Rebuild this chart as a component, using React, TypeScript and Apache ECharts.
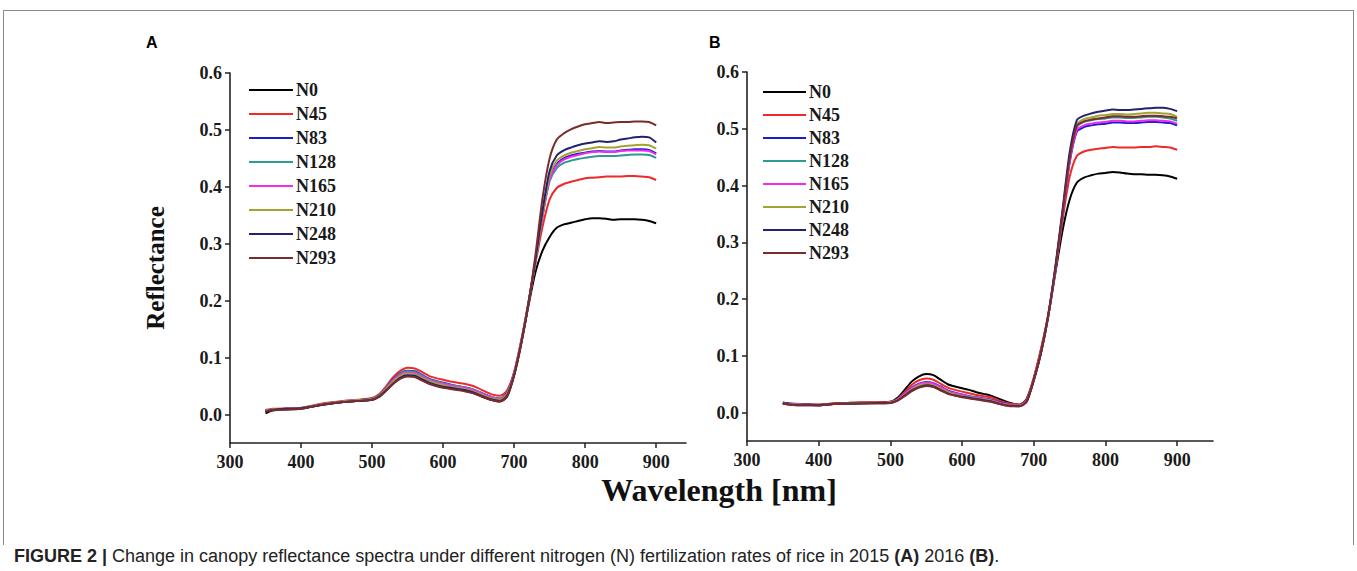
import React, { useEffect, useRef } from "react";
import * as echarts from "echarts";

const NAMES = ["N0", "N45", "N83", "N128", "N165", "N210", "N248", "N293"];
const COLORS = ["#000000", "#ee2a2a", "#1c1cc8", "#2e9a92", "#f02cf0", "#a3a332", "#22226e", "#7a2b2b"];

const WAVELENGTH = [
  350, 360, 380, 400, 420, 440, 460, 480, 500, 510, 520, 530, 540, 550, 560, 570, 580, 590, 600, 610,
  620, 630, 640, 650, 660, 670, 680, 690, 700, 710, 720, 730, 740, 750, 760, 770, 780, 790, 800, 810,
  820, 830, 840, 850, 860, 870, 880, 890, 900,
];

// Panel A (2015)
const A_N0 = [0.002,0.007,0.009,0.010,0.015,0.019,0.022,0.024,0.026,0.032,0.043,0.055,0.064,0.068,0.067,0.061,0.055,0.051,0.048,0.046,0.044,0.042,0.039,0.034,0.029,0.025,0.023,0.031,
  0.070,0.125,0.190,0.250,0.288,0.312,0.328,0.334,0.337,0.340,0.343,0.345,0.345,0.344,0.342,0.343,0.343,0.343,0.342,0.340,0.336];
const A_N45 = [0.008,0.010,0.011,0.012,0.017,0.021,0.024,0.026,0.029,0.036,0.050,0.066,0.077,0.082,0.081,0.075,0.068,0.064,0.061,0.058,0.056,0.054,0.051,0.046,0.040,0.035,0.033,0.042,
  0.075,0.130,0.195,0.265,0.330,0.378,0.398,0.405,0.409,0.412,0.415,0.416,0.417,0.418,0.418,0.418,0.419,0.419,0.418,0.417,0.412];
const A_N83 = [0.007,0.009,0.010,0.011,0.016,0.020,0.023,0.025,0.028,0.034,0.047,0.062,0.073,0.077,0.076,0.070,0.063,0.059,0.056,0.053,0.050,0.048,0.045,0.040,0.035,0.030,0.028,0.038,
  0.072,0.128,0.195,0.270,0.350,0.415,0.440,0.450,0.455,0.458,0.460,0.462,0.463,0.462,0.462,0.464,0.465,0.466,0.466,0.465,0.459];
const A_N128 = [0.007,0.009,0.010,0.011,0.016,0.020,0.023,0.025,0.028,0.034,0.047,0.061,0.072,0.076,0.075,0.069,0.062,0.058,0.055,0.052,0.050,0.048,0.045,0.040,0.034,0.030,0.027,0.037,
  0.072,0.128,0.195,0.268,0.348,0.410,0.433,0.442,0.446,0.449,0.451,0.453,0.454,0.454,0.454,0.455,0.456,0.457,0.457,0.456,0.451];
const A_N165 = [0.006,0.009,0.010,0.011,0.016,0.020,0.023,0.025,0.027,0.033,0.046,0.060,0.070,0.074,0.073,0.067,0.061,0.057,0.054,0.051,0.049,0.047,0.044,0.039,0.034,0.029,0.027,0.036,
  0.071,0.127,0.194,0.269,0.349,0.413,0.438,0.448,0.453,0.456,0.459,0.461,0.462,0.461,0.461,0.463,0.464,0.464,0.464,0.463,0.457];
const A_N210 = [0.006,0.009,0.010,0.011,0.016,0.020,0.023,0.025,0.027,0.033,0.045,0.058,0.068,0.072,0.071,0.065,0.059,0.055,0.052,0.049,0.047,0.045,0.042,0.037,0.032,0.028,0.026,0.035,
  0.070,0.126,0.194,0.270,0.352,0.420,0.446,0.455,0.460,0.463,0.466,0.468,0.470,0.469,0.469,0.471,0.472,0.473,0.474,0.473,0.467];
const A_N248 = [0.005,0.008,0.010,0.011,0.015,0.019,0.022,0.024,0.026,0.032,0.043,0.055,0.065,0.069,0.068,0.062,0.056,0.052,0.049,0.047,0.045,0.043,0.040,0.035,0.030,0.026,0.024,0.033,
  0.069,0.125,0.193,0.272,0.358,0.428,0.455,0.464,0.469,0.473,0.476,0.478,0.480,0.479,0.480,0.483,0.485,0.487,0.488,0.487,0.478];
const A_N293 = [0.005,0.008,0.009,0.010,0.015,0.019,0.022,0.024,0.026,0.031,0.042,0.054,0.063,0.067,0.066,0.060,0.054,0.050,0.047,0.045,0.043,0.041,0.038,0.034,0.029,0.025,0.023,0.032,
  0.068,0.124,0.193,0.280,0.380,0.450,0.483,0.494,0.501,0.506,0.510,0.512,0.514,0.512,0.513,0.514,0.514,0.515,0.515,0.514,0.508];

// Panel B (2016)
const B_N0 = [0.018,0.016,0.015,0.014,0.016,0.017,0.018,0.018,0.019,0.026,0.040,0.055,0.064,0.068,0.066,0.058,0.050,0.046,0.043,0.040,0.036,0.033,0.030,0.025,0.020,0.016,0.014,0.024,
  0.060,0.110,0.170,0.245,0.320,0.375,0.405,0.414,0.418,0.421,0.422,0.424,0.423,0.421,0.420,0.420,0.419,0.419,0.418,0.416,0.412];
const B_N45 = [0.017,0.015,0.014,0.014,0.016,0.017,0.018,0.018,0.019,0.024,0.036,0.049,0.057,0.060,0.058,0.051,0.044,0.040,0.037,0.034,0.031,0.029,0.027,0.022,0.018,0.015,0.014,0.023,
  0.062,0.112,0.172,0.250,0.338,0.415,0.452,0.460,0.463,0.465,0.466,0.468,0.467,0.467,0.467,0.468,0.468,0.469,0.468,0.467,0.463];
const B_N83 = [0.017,0.015,0.014,0.013,0.015,0.016,0.017,0.017,0.018,0.023,0.033,0.044,0.051,0.054,0.052,0.046,0.039,0.035,0.032,0.029,0.027,0.025,0.023,0.019,0.016,0.013,0.013,0.021,
  0.058,0.105,0.168,0.250,0.345,0.440,0.495,0.503,0.506,0.508,0.509,0.511,0.511,0.510,0.510,0.511,0.512,0.512,0.511,0.510,0.506];
const B_N128 = [0.016,0.015,0.014,0.013,0.015,0.016,0.017,0.017,0.018,0.022,0.032,0.042,0.049,0.052,0.050,0.044,0.037,0.034,0.031,0.028,0.026,0.024,0.022,0.018,0.015,0.013,0.012,0.020,
  0.058,0.106,0.169,0.252,0.348,0.445,0.503,0.512,0.515,0.517,0.518,0.520,0.520,0.519,0.519,0.520,0.521,0.521,0.520,0.518,0.514];
const B_N165 = [0.016,0.015,0.014,0.013,0.015,0.016,0.017,0.017,0.018,0.023,0.033,0.043,0.050,0.053,0.051,0.045,0.038,0.034,0.031,0.028,0.026,0.024,0.022,0.018,0.015,0.013,0.012,0.021,
  0.057,0.105,0.168,0.250,0.346,0.442,0.498,0.506,0.509,0.511,0.512,0.514,0.514,0.513,0.513,0.514,0.515,0.515,0.514,0.513,0.509];
const B_N210 = [0.016,0.014,0.014,0.013,0.015,0.016,0.017,0.017,0.018,0.022,0.031,0.041,0.048,0.050,0.048,0.042,0.036,0.032,0.029,0.027,0.025,0.023,0.021,0.017,0.014,0.012,0.012,0.020,
  0.058,0.106,0.170,0.254,0.352,0.450,0.508,0.517,0.520,0.523,0.524,0.526,0.526,0.525,0.526,0.527,0.528,0.528,0.527,0.526,0.521];
const B_N248 = [0.016,0.014,0.013,0.013,0.015,0.016,0.016,0.017,0.017,0.021,0.030,0.039,0.045,0.048,0.046,0.040,0.034,0.030,0.028,0.026,0.024,0.022,0.020,0.016,0.013,0.012,0.011,0.019,
  0.057,0.105,0.170,0.256,0.356,0.458,0.515,0.523,0.527,0.530,0.532,0.534,0.533,0.533,0.534,0.535,0.536,0.537,0.537,0.535,0.531];
const B_N293 = [0.016,0.014,0.013,0.013,0.015,0.015,0.016,0.016,0.017,0.021,0.029,0.038,0.044,0.047,0.045,0.039,0.033,0.030,0.027,0.025,0.023,0.021,0.019,0.016,0.013,0.011,0.011,0.019,
  0.057,0.105,0.169,0.253,0.350,0.448,0.505,0.513,0.516,0.518,0.520,0.522,0.522,0.521,0.521,0.522,0.523,0.523,0.522,0.521,0.518];

const PANEL_A = [A_N0, A_N45, A_N83, A_N128, A_N165, A_N210, A_N248, A_N293];
const PANEL_B = [B_N0, B_N45, B_N83, B_N128, B_N165, B_N210, B_N248, B_N293];

const X_TICKS = [300, 400, 500, 600, 700, 800, 900];
const Y_TICKS = [0.0, 0.1, 0.2, 0.3, 0.4, 0.5, 0.6];

const SERIF = "'Liberation Serif', 'Times New Roman', serif";
const SANS = "'Liberation Sans', Arial, sans-serif";

function makeX(gridIndex: number, max: number) {
  return {
    type: "value",
    gridIndex,
    min: 300,
    max,
    splitLine: { show: false },
    axisLine: { show: true, onZero: false, lineStyle: { color: "#222", width: 1.6 } },
    axisTick: { show: true, length: 5, customValues: X_TICKS, lineStyle: { color: "#222", width: 1.5 } },
    axisLabel: {
      customValues: X_TICKS,
      margin: 10,
      fontFamily: SERIF,
      fontWeight: "bold",
      fontSize: 18,
      color: "#1a1a1a",
    },
  };
}

function makeY(gridIndex: number) {
  return {
    type: "value",
    gridIndex,
    min: -0.05,
    max: 0.6,
    splitLine: { show: false },
    axisLine: { show: true, onZero: false, lineStyle: { color: "#222", width: 1.6 } },
    axisTick: { show: true, length: 5, customValues: Y_TICKS, lineStyle: { color: "#222", width: 1.5 } },
    axisLabel: {
      customValues: Y_TICKS,
      margin: 8,
      fontFamily: SERIF,
      fontWeight: "bold",
      fontSize: 18,
      color: "#1a1a1a",
      formatter: (v: number) => v.toFixed(1),
    },
  };
}

function makeSeries(panel: number[][], idx: number) {
  return panel.map((vals, i) => ({
    name: NAMES[i],
    type: "line",
    xAxisIndex: idx,
    yAxisIndex: idx,
    data: WAVELENGTH.map((w, k) => [w, vals[k]]),
    showSymbol: false,
    symbol: "none",
    smooth: 0.25,
    color: COLORS[i],
    lineStyle: { width: 2, color: COLORS[i] },
    z: 2,
  }));
}

function makeLegend(left: number, top: number, gap: number, width: number) {
  return {
    orient: "vertical",
    left,
    top,
    itemGap: gap,
    itemWidth: width,
    itemHeight: 2,
    icon: "rect",
    data: NAMES,
    selectedMode: false,
    textStyle: { fontFamily: SERIF, fontWeight: "bold", fontSize: 18, color: "#1a1a1a", padding: [0, 0, 0, -2] },
  };
}

export default function App() {
  const ref = useRef<HTMLDivElement>(null);
  useEffect(() => {
    document.body.style.margin = "0";
    const chart = echarts.init(ref.current!, null, { renderer: "svg" });
    chart.setOption({
      animation: false,
      backgroundColor: "#ffffff",
      grid: [
        { left: 230, top: 73, width: 456, height: 370 },
        { left: 747, top: 72, width: 466, height: 369 },
      ],
      xAxis: [makeX(0, 942), makeX(1, 950)],
      yAxis: [makeY(0), makeY(1)],
      legend: [makeLegend(244, 76, 6, 44), makeLegend(758, 78, 5, 43)],
      series: [...makeSeries(PANEL_A, 0), ...makeSeries(PANEL_B, 1)],
      graphic: [
        { type: "line", shape: { x1: 3, y1: 10.5, x2: 1354, y2: 10.5 }, style: { stroke: "#8a8a8a", lineWidth: 1 } },
        { type: "line", shape: { x1: 3.5, y1: 10, x2: 3.5, y2: 545 }, style: { stroke: "#8a8a8a", lineWidth: 1 } },
        { type: "line", shape: { x1: 1353.5, y1: 10, x2: 1353.5, y2: 545 }, style: { stroke: "#8a8a8a", lineWidth: 1 } },
        { type: "text", x: 146, y: 42, style: { text: "A", font: `bold 16px ${SANS}`, fill: "#000", verticalAlign: "middle" } },
        { type: "text", x: 709, y: 42, style: { text: "B", font: `bold 16px ${SANS}`, fill: "#000", verticalAlign: "middle" } },
        {
          type: "text",
          x: 155,
          y: 268,
          rotation: Math.PI / 2,
          style: { text: "Reflectance", font: `bold 25px ${SERIF}`, fill: "#111", align: "center", verticalAlign: "middle" },
        },
        {
          type: "text",
          x: 719,
          y: 490,
          style: { text: "Wavelength [nm]", font: `bold 32px ${SERIF}`, fill: "#111", align: "center", verticalAlign: "middle" },
        },
        {
          type: "text",
          x: 14,
          y: 556,
          style: {
            text: "{b|FIGURE 2 |} Change in canopy reflectance spectra under different nitrogen (N) fertilization rates of rice in 2015 {b|(A)} 2016 {b|(B)}.",
            font: `18px ${SANS}`,
            fill: "#222",
            verticalAlign: "middle",
            rich: { b: { fontWeight: "bold", fontFamily: SANS, fontSize: 18, fill: "#222" } },
          },
        },
      ],
    });
    return () => chart.dispose();
  }, []);
  return <div ref={ref} style={{ width: 1357, height: 571 }} />;
}
